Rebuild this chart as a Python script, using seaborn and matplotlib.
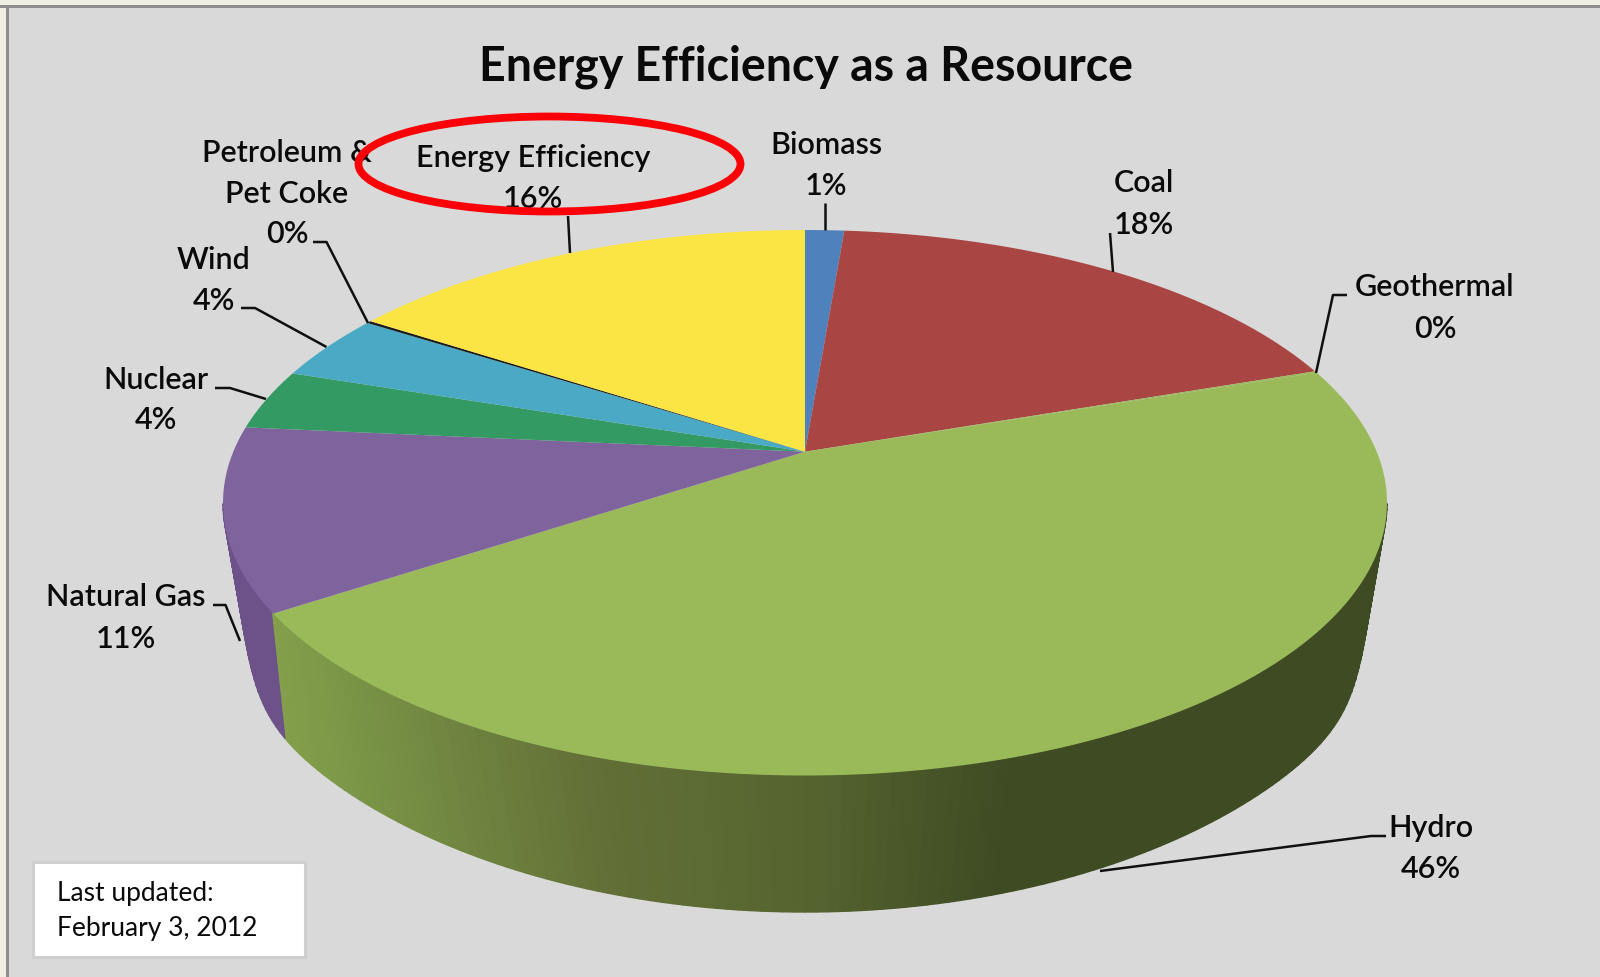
import numpy as np
import matplotlib
matplotlib.use("Agg")
import matplotlib.pyplot as plt
import seaborn as sns
from matplotlib.collections import PolyCollection
from matplotlib.patches import Ellipse, Rectangle
from matplotlib.path import Path
from matplotlib.transforms import Affine2D, Transform

# ---- data -------------------------------------------------------------
sources = ["Biomass", "Coal", "Geothermal", "Hydro", "Natural Gas",
           "Nuclear", "Wind", "Petroleum &\nPet Coke", "Energy Efficiency"]
shares = [1.3, 18.45, 0.1, 45.85, 10.8, 3.6, 3.95, 0.15, 15.8]
slice_colors = ["#4f81bd", "#a94543", "#9aba5a", "#9aba5a", "#7f639d",
                "#339a64", "#4aaac5", "#1c1c1c", "#fbe545"]
title_text = "Energy Efficiency as a Resource"
note_lines = ["Last updated:", "February 3, 2012"]

sns.set_style("white")
plt.rcParams["font.family"] = ["Lato", "DejaVu Sans"]
BG = "#d9d9d9"


class TopFace(Transform):
    """Perspective map from the unit pie to the tilted top face."""
    input_dims = output_dims = 2
    cx, cy, a, b, k = 805.0, 451.7, 571.7, 263.2, 0.1872

    def transform_non_affine(self, v):
        v = np.asarray(v, float)
        d = 1 + self.k * v[:, 1]
        return np.column_stack([self.cx + self.a * v[:, 0] / d,
                                self.cy - self.b * v[:, 1] / d])

    def transform_path_non_affine(self, path):
        poly = path.to_polygons(Affine2D().scale(2000), closed_only=True)[0] / 2000
        return Path(self.transform_non_affine(poly), closed=True)


fig = plt.figure(figsize=(16, 9.77), dpi=100, facecolor=BG)
ax = fig.add_axes([0, 0, 1, 1])

wedges, _ = ax.pie(shares, startangle=90, counterclock=False, colors=slice_colors,
                   radius=1, center=(0, 0), wedgeprops=dict(linewidth=0))
top = TopFace()
for w in wedges:
    w.set_transform(top + ax.transData)
    w.set_zorder(3)

ax.set_aspect("auto")
ax.set(xlim=(0, 1600), ylim=(977, 0))
ax.set_axis_off()

# ---- side wall -----------------------------------------------------------
edges = np.cumsum([0] + shares) * 3.6   # clockwise from 12 o'clock, degrees
hydro_i, gas_i = sources.index("Hydro"), sources.index("Natural Gas")
theta = np.linspace(101, 259, 159)


def rim(t):
    r = np.radians(t)
    return top.transform_non_affine(np.column_stack([np.sin(r), np.cos(r)]))


def floor(t):
    phi = np.radians((180 - t) * 1.066)
    y = 572 + 340 * np.cos(phi)
    x = 600 * np.sin(phi)
    lim = 579 - (y - 533) * 0.135
    mag = (np.abs(x) ** -30.0 + lim ** -30.0) ** (-1 / 30)
    return np.column_stack([805 + np.sign(x) * mag, y])


ramp_x = [274, 400, 600, 800, 1000, 1400]
ramp_c = sns.blend_palette(["#84a04b", "#758e44", "#626f37", "#566530", "#3f4b23", "#3f4b23"], 6)
polys, cols = [], []
for t0, t1 in zip(theta[:-1], theta[1:]):
    mid = (t0 + t1) / 2
    if mid > edges[gas_i + 1]:
        continue
    T, B = rim(np.array([t0, t1])), floor(np.array([t0, t1]))
    polys.append([T[0], T[1], B[1], B[0]])
    if mid < edges[hydro_i + 1]:
        xm = (T[:, 0].mean() + B[:, 0].mean()) / 2
        cols.append([np.interp(xm, ramp_x, [c[i] for c in ramp_c]) for i in range(3)])
    else:
        cols.append(matplotlib.colors.to_rgb("#6c5288"))
ax.add_collection(PolyCollection(polys, facecolors=cols, edgecolors=cols, linewidths=1.0, zorder=2))

# ---- frame ---------------------------------------------------------------
ax.add_patch(Rectangle((0, 0), 1600, 5, fc="#efeee2", ec="none", zorder=1))
ax.add_patch(Rectangle((0, 0), 6, 977, fc="#efeee2", ec="none", zorder=1))
ax.add_patch(Rectangle((0, 5), 1600, 2.5, fc="#8e8e8e", ec="none", zorder=1))
ax.add_patch(Rectangle((6, 5), 2.5, 972, fc="#8e8e8e", ec="none", zorder=1))

# ---- text ----------------------------------------------------------------
ink = "#0a0a0a"
ax.text(805.6, 80.3, title_text, ha="center", va="baseline", fontsize=33.5,
        fontweight="bold", color=ink, zorder=6)

label_x = [826, 1144, 1435, 1431, 126, 156, 214, 287, 533]
label_y = [[153.7, 195], [192, 233.7], [296, 337.7], [836.7, 877.7], [606, 647.7],
           [388.7, 429], [268.7, 310], [161.7, 202.7, 242.7], [167, 207.7]]
for name, val, x, ys in zip(sources, shares, label_x, label_y):
    for line, y in zip(name.split("\n") + [f"{val:.0f}%"], ys):
        ax.text(x, y, line, ha="center", va="baseline", fontsize=22, fontweight=600,
                color=ink, zorder=6)

leaders = [[(824.5, 203), (824.5, 230)],
           [(1110, 233), (1113, 272)],
           [(1347, 295), (1333, 295), (1316, 373)],
           [(1386, 836), (1371, 836), (1100, 871)],
           [(213, 605), (225.5, 605), (240, 641)],
           [(215, 388), (230, 388), (266, 399)],
           [(241, 308), (255, 308), (326.5, 347)],
           [(313, 242), (326.5, 242), (368, 323)],
           [(568, 216), (570, 253)]]
for pts in leaders:
    xs, ys = zip(*pts)
    ax.plot(xs, ys, color="#101010", lw=1.8, zorder=5, solid_capstyle="butt")

ax.add_patch(Ellipse((549.5, 164), 382, 95, fc="none", ec="#fb0006", lw=5.6, zorder=7))

ax.add_patch(Rectangle((32.5, 862), 272, 94.5, fc="white", ec="#cfcfcf", lw=2.2, zorder=6))
for line, y in zip(note_lines, [900.7, 935.7]):
    ax.text(57, y, line, ha="left", va="baseline", fontsize=19, color=ink, zorder=7)

fig.savefig("out.png", dpi=100, facecolor=BG)
